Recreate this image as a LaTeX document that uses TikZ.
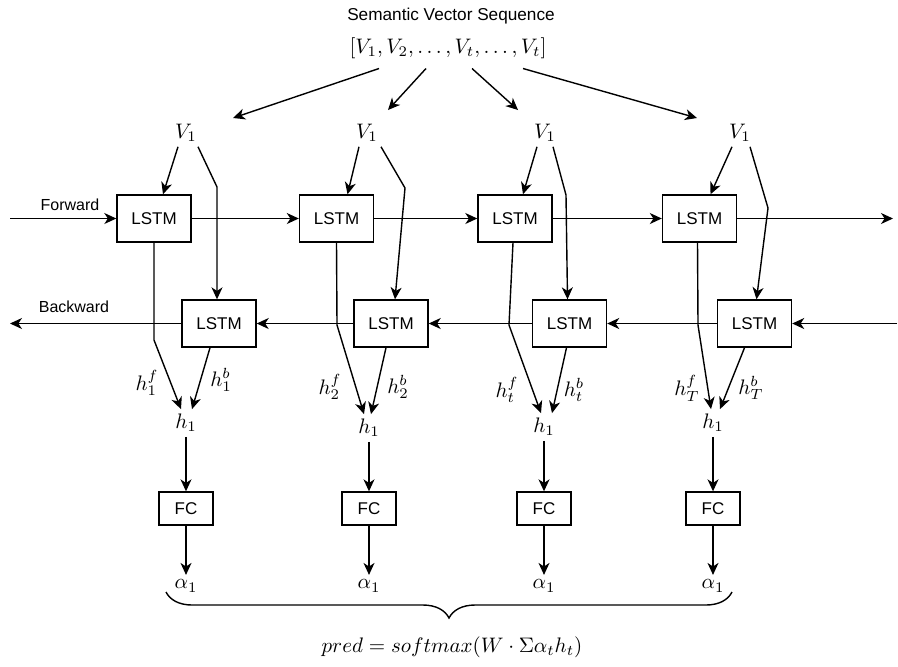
\documentclass[tikz,border=0pt]{standalone}
\usepackage{fix-cm}
\usepackage{fontspec}
\setsansfont{Liberation Sans}
\usetikzlibrary{arrows.meta,decorations.pathreplacing}

\begin{document}
\begin{tikzpicture}[x=0.5pt, y=-0.5pt, line width=0.7pt,
    >={Stealth[length=6pt, width=5.5pt, inset=1.8pt]},
    cell/.style={draw, minimum width=37pt, minimum height=23.5pt, inner sep=0pt, font=\sffamily\fontsize{8.5}{10}\selectfont},
    fcbox/.style={draw, minimum width=27pt, minimum height=16.5pt, inner sep=0pt, font=\sffamily\fontsize{8.5}{10}\selectfont},
    lbl/.style={inner sep=0.5pt, outer sep=2pt, font=\fontsize{10.5}{12}\selectfont},
    dirlbl/.style={inner sep=1pt, font=\sffamily\fontsize{8}{10}\selectfont}]
  \useasboundingbox (0,0) rectangle (898,666);

  \node[dirlbl, font=\sffamily\fontsize{8.6}{10}\selectfont] (ttl) at (451,16) {Semantic Vector Sequence};
  \node[lbl, outer sep=4.5pt] (seq) at (448,48) {$[V_1, V_2, \ldots, V_t, \ldots, V_t]$};

  \node[lbl] (v1) at (186,133) {$V_1$};
  \node[lbl] (v2) at (367,133) {$V_1$};
  \node[lbl] (v3) at (545,133) {$V_1$};
  \node[lbl] (v4) at (740,133) {$V_1$};

  \node[cell] (f1) at (154,218.5) {LSTM};
  \node[cell] (f2) at (336.5,218.5) {LSTM};
  \node[cell] (f3) at (515,218.5) {LSTM};
  \node[cell] (f4) at (699.5,218.5) {LSTM};

  \node[cell] (b1) at (219,323.5) {LSTM};
  \node[cell] (b2) at (391,323.5) {LSTM};
  \node[cell] (b3) at (569.5,323.5) {LSTM};
  \node[cell] (b4) at (754.5,323.5) {LSTM};

  \node[lbl] (h1) at (186,423) {$h_1$};
  \node[lbl] (h2) at (369,428) {$h_1$};
  \node[lbl] (h3) at (544,427) {$h_1$};
  \node[lbl] (h4) at (713,423) {$h_1$};

  \node[lbl] (hf1) at (147,383) {$h_1^f$};
  \node[lbl] (hb1) at (221,380) {$h_1^b$};
  \node[lbl] (hf2) at (330,387) {$h_2^f$};
  \node[lbl] (hb2) at (398,387) {$h_2^b$};
  \node[lbl] (hf3) at (507,390) {$h_t^f$};
  \node[lbl] (hb3) at (574,390) {$h_t^b$};
  \node[lbl] (hf4) at (687,388) {$h_T^f$};
  \node[lbl] (hb4) at (751,388) {$h_T^b$};

  \node[fcbox] (fc1) at (186,508.5) {FC};
  \node[fcbox] (fc2) at (369,508.5) {FC};
  \node[fcbox] (fc3) at (544,508.5) {FC};
  \node[fcbox] (fc4) at (713,508.5) {FC};

  \node[lbl] (a1) at (186,586) {$\alpha_1$};
  \node[lbl] (a2) at (369,586) {$\alpha_1$};
  \node[lbl] (a3) at (544,586) {$\alpha_1$};
  \node[lbl] (a4) at (713,586) {$\alpha_1$};

  \node[lbl] (pred) at (452,647) {$pred = softmax(W \cdot \Sigma\alpha_t h_t)$};

  \node[dirlbl] (fw) at (70,205) {Forward};
  \node[dirlbl] (bw) at (74,307) {Backward};

  \coordinate (e1) at (233,118);
  \coordinate (e2) at (388,110);
  \coordinate (e3) at (518,110);
  \coordinate (e4) at (697,118);

  \coordinate (k1) at (217,187);
  \coordinate (k2) at (405,188);
  \coordinate (k3) at (566,195);
  \coordinate (k4) at (768,208);

  \coordinate (d1) at (154,340);
  \coordinate (d2) at (337,325);
  \coordinate (d3) at (509,325);
  \coordinate (d4) at (698,325);

  \coordinate (fin) at (10,218.5);
  \coordinate (fout) at (893,218.5);
  \coordinate (bin) at (897,323.5);
  \coordinate (bout) at (10,323.5);

  \coordinate (br1) at (166,592);
  \coordinate (br2) at (732,592);

  \draw[->] ([xshift=-34.5pt]seq.south) -- (e1);
  \draw[->] ([xshift=-11pt]seq.south) -- (e2);
  \draw[->] ([xshift=12pt]seq.south) -- (e3);
  \draw[->] ([xshift=37.5pt]seq.south) -- (e4);

  \draw[->] ([xshift=-4pt]v1.south) -- ([xshift=4.5pt]f1.north);
  \draw[->] ([xshift=-4pt]v2.south) -- ([xshift=5.5pt]f2.north);
  \draw[->] ([xshift=-4pt]v3.south) -- ([xshift=4pt]f3.north);
  \draw[->] ([xshift=-4pt]v4.south) -- ([xshift=5.5pt]f4.north);

  \draw[->] ([xshift=6pt]v1.south) -- (k1) -- ([xshift=-1pt]b1.north);
  \draw[->] ([xshift=7pt]v2.south) -- (k2) -- ([xshift=2pt]b2.north);
  \draw[->] ([xshift=4pt]v3.south) -- (k3) -- ([xshift=-1pt]b3.north);
  \draw[->] ([xshift=5pt]v4.south) -- (k4) -- ([xshift=1pt]b4.north);

  \draw[->] (fin) -- (f1);
  \draw[->] (f1) -- (f2);
  \draw[->] (f2) -- (f3);
  \draw[->] (f3) -- (f4);
  \draw[->] (f4) -- (fout);

  \draw[->] (bin) -- (b4);
  \draw[->] (b4) -- (b3);
  \draw[->] (b3) -- (b2);
  \draw[->] (b2) -- (b1);
  \draw[->] (b1) -- (bout);

  \draw[->] (f1.south) -- (d1) -- ([xshift=-2.5pt]h1.north);
  \draw[->] (f2.south) -- (d2) -- ([xshift=-2.5pt]h2.north);
  \draw[->] ([xshift=-1pt]f3.south) -- (d3) -- ([xshift=-1.5pt]h3.north);
  \draw[->] ([xshift=-1pt]f4.south) -- (d4) -- ([xshift=-1pt]h4.north);

  \draw[->] ([xshift=-4.5pt]b1.south) -- ([xshift=3pt]h1.north);
  \draw[->] ([xshift=-2.5pt]b2.south) -- ([xshift=1pt]h2.north);
  \draw[->] ([xshift=-1.5pt]b3.south) -- ([xshift=4pt]h3.north);
  \draw[->] ([xshift=-5pt]b4.south) -- ([xshift=3.5pt]h4.north);

  \draw[->] (h1) -- (fc1);
  \draw[->] (h2) -- (fc2);
  \draw[->] (h3) -- (fc3);
  \draw[->] (h4) -- (fc4);

  \draw[->] (fc1) -- (a1);
  \draw[->] (fc2) -- (a2);
  \draw[->] (fc3) -- (a3);
  \draw[->] (fc4) -- (a4);

  \draw[decorate, decoration={brace, amplitude=13pt}] (br2) -- (br1);
\end{tikzpicture}
\end{document}
